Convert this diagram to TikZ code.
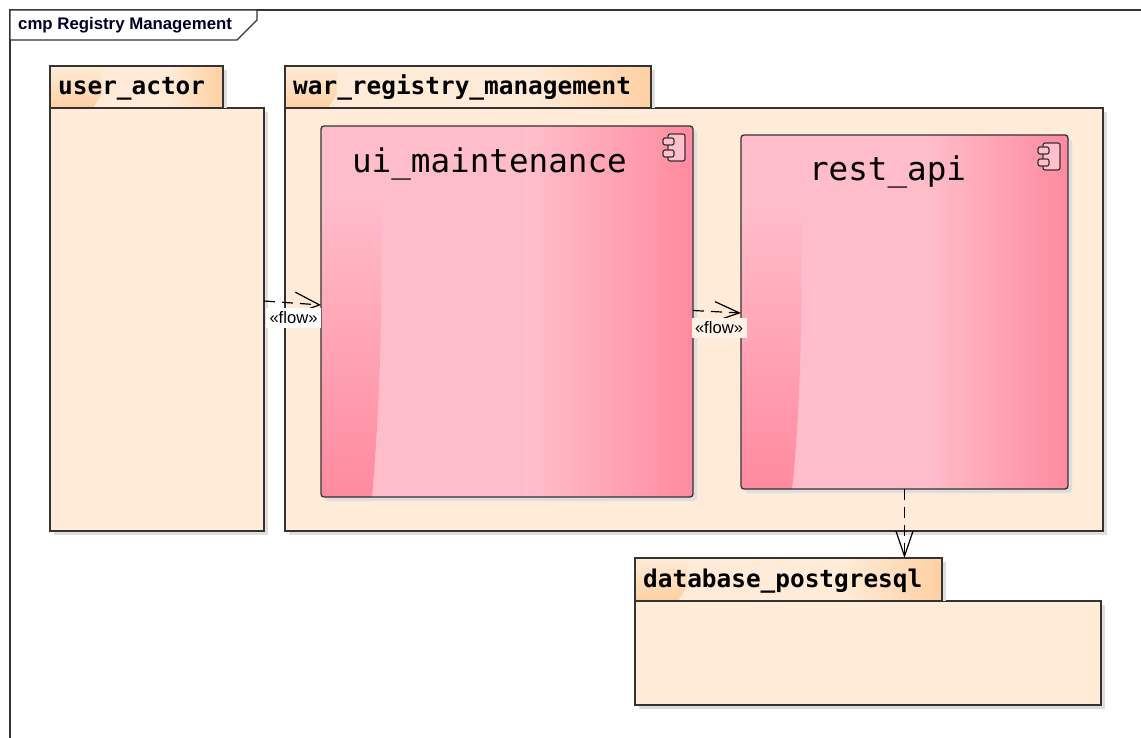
\documentclass[tikz,border=0pt]{standalone}
\usepackage{fontspec}
\setmainfont{Liberation Sans}
\newfontfamily\pkgfont{DejaVu Sans Mono}
\usetikzlibrary{arrows.meta,calc}
\definecolor{pkgbody}{HTML}{FFEBD7}
\definecolor{pkgdark}{HTML}{FFD0A2}
\definecolor{complight}{HTML}{FFBCC9}
\definecolor{compstep}{HTML}{FFBFCB}
\definecolor{compmid}{HTML}{FFA8B9}
\definecolor{compdark}{HTML}{FF8A9F}
\definecolor{inkline}{HTML}{333333}
\definecolor{shadowgray}{HTML}{DEDEDE}
\tikzset{
  x=1pt,y=-1pt,
  frameline/.style={draw=inkline,line width=1.2pt},
  pkgbox/.style={draw=inkline,line width=1.3pt,rectangle,anchor=north west,inner sep=0pt,outer sep=0pt},
  pkgtitle/.style={anchor=base west,inner sep=0pt,font=\pkgfont\bfseries\fontsize{24.4}{28}\selectfont},
  compbox/.style={draw=inkline,line width=1.3pt,rectangle,rounded corners=3pt,anchor=north west,inner sep=0pt,outer sep=0pt},
  comptitle/.style={inner sep=0pt,font=\pkgfont\fontsize{32.6}{36}\selectfont},
  flowlabel/.style={inner sep=0pt,minimum width=55pt,minimum height=20pt,font=\fontsize{16.6}{18}\selectfont},
  flowline/.style={draw=black,line width=1.2pt,dash pattern=on 11pt off 7pt,
    -{Straight Barb[length=25pt,width=#1,line width=1.2pt]}},
  flowline/.default=22pt,
}
% x y w h : package body
\newcommand{\pkgbody}[5]{%
  \fill[shadowgray] (#1+4,#2+4) rectangle (#1+#3+4,#2+#4+4);
  \node[pkgbox,fill=pkgbody,minimum width=#3pt,minimum height=#4pt] (#5) at (#1,#2) {};}
% x y w h : package tab
\newcommand{\pkgtab}[6]{%
  \fill[shadowgray] (#1+4,#2+4) rectangle (#1+#3+4,#2+#4);
  \fill[pkgbody] (#1,#2) rectangle (#1+#3,#2+#4);
  \shade[left color=pkgbody,right color=pkgdark] (#1+0.68*#3,#2) rectangle (#1+#3,#2+#4);
  \shade[top color=pkgbody,bottom color=pkgdark] (#1,#2) -- (#1+52,#2) -- (#1+52,#2+#4-14) -- (#1+43,#2+#4) -- (#1,#2+#4) -- cycle;
  \node[pkgbox,minimum width=#3pt,minimum height=#4pt] (#5) at (#1,#2) {};
  \node[pkgtitle] (#5t) at (#1+8,#2+29) {#6};}
% x y w h : component
\newcommand{\compbody}[5]{%
  \fill[shadowgray,rounded corners=3pt] (#1+4,#2+4) rectangle (#1+#3+4,#2+#4+4);
  \begin{scope}
    \clip[rounded corners=3pt] (#1,#2) rectangle (#1+#3,#2+#4);
    \fill[complight] (#1,#2) rectangle (#1+#3,#2+#4);
    \shade[left color=compstep,right color=compdark] (#1+0.55*#3,#2) rectangle (#1+#3,#2+#4);
    \shade[top color=complight,middle color=compmid,bottom color=compdark]
      (#1,#2+75) -- (#1+60,#2+75) .. controls (#1+62,#2+210) and (#1+57,#2+300) .. (#1+51,#2+#4) -- (#1,#2+#4) -- cycle;
  \end{scope}
  \node[compbox,minimum width=#3pt,minimum height=#4pt] (#5) at (#1,#2) {};}
% x y : component icon, from the top left of its body
\newcommand{\compicon}[2]{%
  \draw[draw=inkline,line width=1.2pt,fill=compstep,rounded corners=2pt] (#1+5,#2) rectangle (#1+22,#2+27);
  \draw[draw=inkline,line width=1.2pt,fill=compstep,rounded corners=2pt] (#1,#2+4) rectangle (#1+11,#2+11);
  \draw[draw=inkline,line width=1.2pt,fill=compstep,rounded corners=2pt] (#1,#2+16) rectangle (#1+11,#2+23);}
\begin{document}
\begin{tikzpicture}
\useasboundingbox (0,0) rectangle (1141,738);
\fill[white] (0,0) rectangle (1141,738);
% frame
\draw[frameline] (1141,10) -- (10,10) -- (10,738);
\draw[frameline,fill=white] (10,10) -- (257,10) -- (257,20) -- (237,40) -- (10,40) -- cycle;
\node[anchor=west,inner sep=0pt,font=\bfseries\fontsize{16.8}{19}\selectfont,text=black!85!blue] (frametitle) at (18,25) {cmp Registry Management};
% packages
\pkgbody{50}{108}{214}{423}{ua}
\pkgtab{50}{66}{173}{42}{uat}{user\_actor}
\pkgbody{285}{108}{818}{423}{war}
\pkgtab{285}{66}{366}{42}{wart}{war\_registry\_management}
\pkgbody{635}{601}{466}{104}{db}
\pkgtab{635}{558}{307}{43}{dbt}{database\_postgresql}
% components
\compbody{321}{126}{372}{371}{ui}
\node[comptitle] (uititle) at (489.5,164) {ui\_maintenance};
\compicon{663}{134}
\compbody{741}{135}{327}{354}{rest}
\node[comptitle] (resttitle) at (887.5,172) {rest\_api};
\compicon{1038}{143}
% connectors
\draw[flowline] ([yshift=18.5pt]ua.east) -- ([yshift=6.5pt]ui.west);
\draw[flowline=20pt] ([yshift=1pt]ui.east) -- ([yshift=-1pt]rest.west);
\draw[flowline=17pt] (rest.south) -- (rest.south |- dbt.north);
% connector labels
\node[flowlabel,fill=white] (flowa) at (293.5,318) {«flow»};
\node[flowlabel,fill=pkgbody!60!white] (flowb) at (719,328) {«flow»};
\end{tikzpicture}
\end{document}
